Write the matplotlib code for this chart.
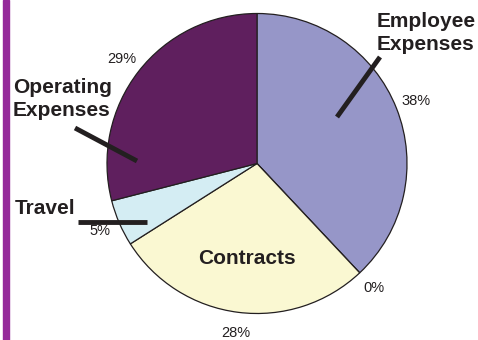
import matplotlib
matplotlib.use('Agg')
import matplotlib.pyplot as plt
from matplotlib.patches import Rectangle

# slice data, clockwise from 12 o'clock
categories = ['Employee Expenses', 'Other', 'Contracts', 'Travel', 'Operating Expenses']
shares = [38, 0, 28, 5, 29]
colors = ['#9696C8', '#9696C8', '#FAF8D2', '#D4EDF3', '#5F1F5E']

plt.rcParams['font.family'] = ['Liberation Sans', 'DejaVu Sans']

H = 340  # figure height in px, to place things from the top

fig = plt.figure(figsize=(4.78, 3.40), dpi=100)
ax = fig.add_axes([0, 0, 1, 1])

wedges, texts, autotexts = ax.pie(
    shares, colors=colors, startangle=90, counterclock=False,
    center=(257, H - 163.5), radius=150, autopct='%.0f%%', pctdistance=1.14,
    wedgeprops=dict(edgecolor='#231F20', linewidth=0.9),
    textprops=dict(fontsize=10.5, color='#231F20'), frame=True)
ax.set_xlim(0, 478)
ax.set_ylim(0, H)
ax.set_aspect('equal')
ax.axis('off')

# purple strip on the left edge
fig.patches.append(Rectangle((3 / 478, 0), 6 / 478, 1, transform=fig.transFigure,
                             color='#952A9A', zorder=5))

bold = dict(fontsize=15, fontweight='bold', color='#231F20', linespacing=1.3)
ax.text(377, H - 12, 'Employee\nExpenses', ha='left', va='top', **bold)
ax.text(13, H - 78, 'Operating\nExpenses', ha='left', va='top', **bold)
ax.text(15, H - 199, 'Travel', ha='left', va='top', **bold)
ax.text(247, H - 259, 'Contracts', ha='center', va='center', **bold)

# leader lines
ax.plot([337, 380], [H - 117, H - 57], color='#231F20', lw=3.5, solid_capstyle='butt')
ax.plot([75, 137], [H - 128, H - 161], color='#231F20', lw=3.5, solid_capstyle='butt')
ax.plot([78, 147], [H - 222, H - 222], color='#231F20', lw=3.5, solid_capstyle='butt')

fig.savefig('out.png', dpi=100)
